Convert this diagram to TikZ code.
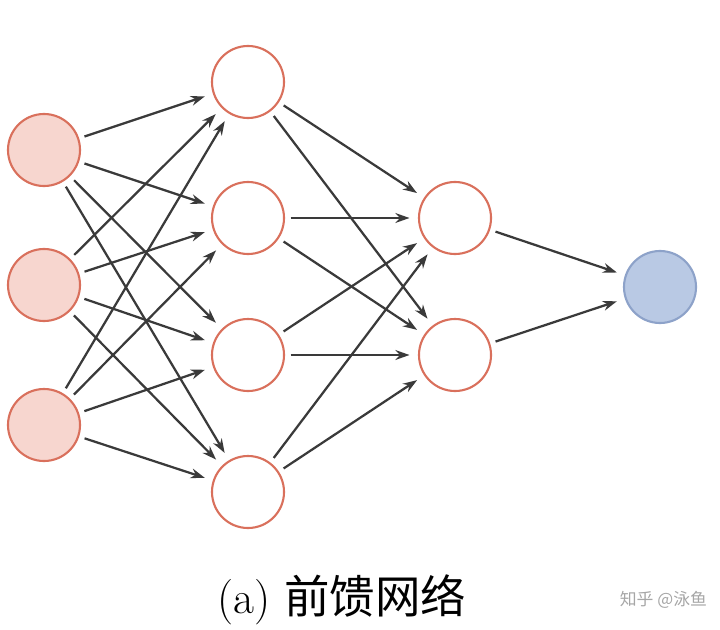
\documentclass[tikz,border=0pt]{standalone}
\usepackage{fontspec}
\newfontfamily\cjk{Noto Sans CJK SC}
\usetikzlibrary{arrows.meta, positioning, calc}
\definecolor{inred}{HTML}{D9705C}
\definecolor{infill}{HTML}{F7D6CF}
\definecolor{outblue}{HTML}{8DA2C9}
\definecolor{outfill}{HTML}{B9C9E4}
\definecolor{arrowgray}{HTML}{3A3A3A}

\begin{document}
\begin{tikzpicture}[
        x=0.025cm, y=-0.025cm,
        >={Stealth[length=10pt, width=7pt]},
        neuron/.style={circle, draw=inred, line width=1.5pt, minimum size=1.8cm, inner sep=0pt},
        input/.style={neuron, fill=infill},
        output/.style={neuron, draw=outblue, fill=outfill},
        link/.style={->, draw=arrowgray, line width=1.6pt, shorten >=6pt, shorten <=4pt},
    ]
    \useasboundingbox (0,0) rectangle (720,629);
    % input layer
    \foreach \i/\y in {1/150, 2/285, 3/425}
        \node[input] (x\i) at (44,\y) {};
    % first hidden layer
    \foreach \i/\y in {1/82, 2/218, 3/355, 4/492}
        \node[neuron] (h\i) at (248,\y) {};
    % second hidden layer
    \foreach \i/\y in {1/218, 2/355}
        \node[neuron] (g\i) at (455,\y) {};
    % output layer
    \node[output] (y) at (660,287) {};
    % connections
    \foreach \i in {1,2,3}
        \foreach \j in {1,2,3,4}
            \draw[link] (x\i) -- (h\j);
    \foreach \i in {1,2,3,4}
        \foreach \j in {1,2}
            \draw[link] (h\i) -- (g\j);
    \foreach \i in {1,2}
        \draw[link] (g\i) -- (y);
    % caption
    \node[font=\Huge, scale=1.3] (cap) at (342,600) {(a) {\cjk 前馈网络}};
    \node[font=\large, text=gray!70, anchor=east] (mark) at (712,600) {\cjk 知乎 @泳鱼};
\end{tikzpicture}
\end{document}
